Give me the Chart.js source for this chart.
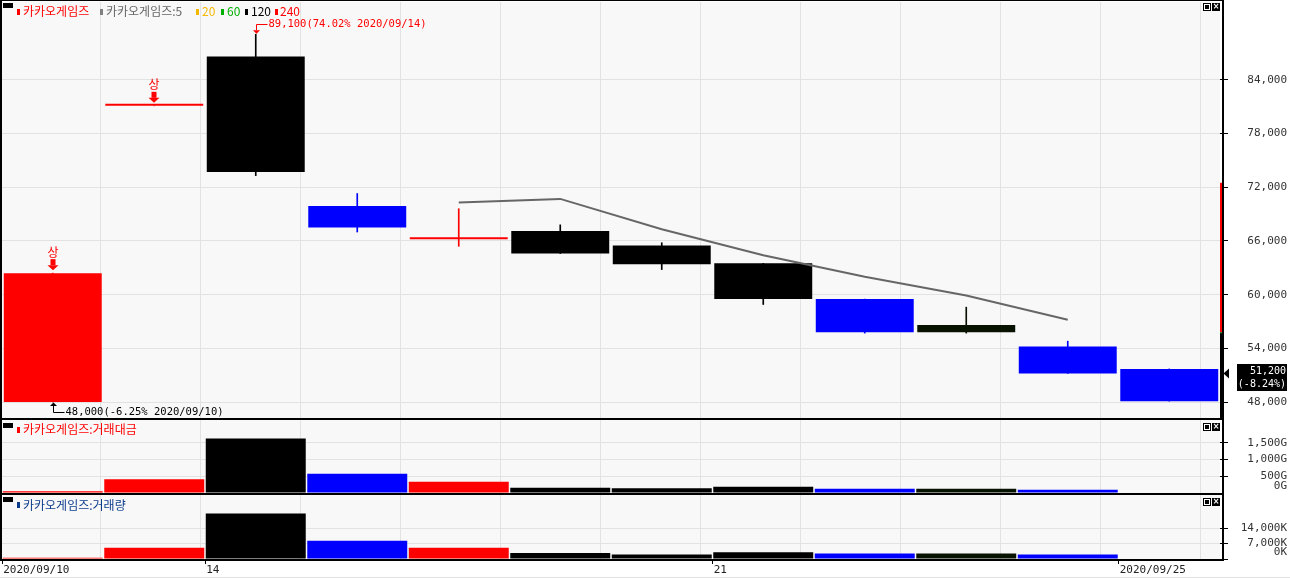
<!DOCTYPE html>
<html>
<head>
<meta charset="utf-8">
<script src="https://cdn.jsdelivr.net/npm/chart.js@4/dist/chart.umd.min.js"></script>
<style>
body { margin: 0; background: #fff; width: 1290px; height: 578px; overflow: hidden; position: relative; font-family: 'Noto Sans CJK KR', sans-serif; }
canvas { position: absolute; left: 0; }
.ln { position: absolute; background: #000; }
.lg { position: absolute; font-size: 12px; line-height: 12px; white-space: nowrap; }
.mk { position: absolute; width: 3px; height: 6px; }
.ico { position: absolute; width: 10px; height: 5px; background: #000; }
.btn1 { position: absolute; width: 6px; height: 6px; border: 1px solid #000; background: #fff; }
.btn1::after { content: ''; position: absolute; left: 1px; top: 1px; width: 4px; height: 4px; background: #000; }
.btn2 { position: absolute; width: 8px; height: 8px; background: #000; color: #fff; font: bold 8px/8px 'DejaVu Sans'; text-align: center; }
</style>
</head>
<body>
<canvas id="price" width="1290" height="420" style="top:0px"></canvas>
<canvas id="amount" width="1290" height="73" style="top:420px"></canvas>
<canvas id="volume" width="1290" height="83" style="top:495px"></canvas>

<div class="ln" style="left:0;top:0;width:1224px;height:1px"></div>
<div class="ln" style="left:0;top:0;width:2px;height:561px"></div>
<div class="ln" style="left:1222px;top:0;width:2px;height:561px"></div>
<div class="ln" style="left:0;top:418px;width:1224px;height:2px"></div>
<div class="ln" style="left:0;top:493px;width:1224px;height:2px"></div>
<div class="ln" style="left:0;top:559px;width:1224px;height:2px"></div>
<div class="ln" style="left:0;top:577px;width:1290px;height:1px;background:#e0e0e0"></div>

<!-- panel 1 legend -->
<div class="ico" style="left:3px;top:3px"></div>
<div class="mk" style="left:17px;top:9px;background:#ff0000"></div>
<div class="lg" style="left:23px;top:5px;color:#ff0000">카카오게임즈</div>
<div class="mk" style="left:100px;top:9px;background:#808080"></div>
<div class="lg" style="left:106px;top:5px;color:#666">카카오게임즈:5</div>
<div class="mk" style="left:196px;top:9px;background:#f5b800"></div>
<div class="lg" style="left:202px;top:5px;color:#f5b800">20</div>
<div class="mk" style="left:221px;top:9px;background:#00b000"></div>
<div class="lg" style="left:227px;top:5px;color:#00b000">60</div>
<div class="mk" style="left:245px;top:9px;background:#000"></div>
<div class="lg" style="left:251px;top:5px;color:#000">120</div>
<div class="mk" style="left:275px;top:9px;background:#ff0000"></div>
<div class="lg" style="left:280px;top:5px;color:#ff0000">240</div>
<div class="btn1" style="left:1203px;top:3px"></div>
<div class="btn2" style="left:1212px;top:3px">×</div>

<!-- panel 2 legend -->
<div class="ico" style="left:3px;top:423px"></div>
<div class="mk" style="left:17px;top:427px;background:#ff0000"></div>
<div class="lg" style="left:23px;top:423px;color:#ff0000">카카오게임즈:거래대금</div>
<div class="btn1" style="left:1203px;top:423px"></div>
<div class="btn2" style="left:1212px;top:423px">×</div>

<!-- panel 3 legend -->
<div class="ico" style="left:3px;top:497px"></div>
<div class="mk" style="left:17px;top:502px;background:#0b3c8c"></div>
<div class="lg" style="left:23px;top:499px;color:#0b3c8c">카카오게임즈:거래량</div>
<div class="btn1" style="left:1203px;top:498px"></div>
<div class="btn2" style="left:1212px;top:498px">×</div>

<script>
// daily data
const dates = ['2020/09/10', '2020/09/11', '2020/09/14', '2020/09/15', '2020/09/16', '2020/09/17',
               '2020/09/18', '2020/09/21', '2020/09/22', '2020/09/23', '2020/09/24', '2020/09/25'];
const x_tick_labels = ['2020/09/10', '', '14', '', '', '', '', '21', '', '', '', '2020/09/25'];
const opens  = [48000, 81100, 86600, 69900, 66200, 67100, 65500, 63500, 59500, 56600, 54200, 51700];
const closes = [62400, 81100, 73700, 67500, 66200, 64600, 63400, 59500, 55800, 55800, 51200, 48100];
const highs  = [62400, 81100, 89100, 71300, 69600, 67800, 65800, 63500, 59500, 58600, 54800, 51700];
const lows   = [48000, 81100, 73300, 67000, 65400, 64600, 62800, 58900, 55700, 55700, 51200, 48100];
const ma5    = [null, null, null, null, 70300, 70700, 67300, 64400, 62000, 59900, 57200, null];
const amounts = [50, 410, 1630, 580, 340, 160, 140, 190, 130, 130, 100, null];      // 거래대금, G
const volumes = [600, 5100, 20600, 8300, 5100, 2700, 2050, 3100, 2500, 2500, 2050, null]; // 거래량, K
const limit_up_days = [0, 1];

const price_ticks = [48000, 54000, 60000, 66000, 72000, 78000, 84000];
const amount_ticks = [0, 500, 1000, 1500];
const volume_ticks = [0, 7000, 14000];

const last_price = 51200;
const prev_close = 55800;
const upper_limit = 72500;
const lower_limit = 39100;

const bar_colors = ['#ff0000', '#ff0000', '#000000', '#0000ff', '#ff0000', '#000000',
                    '#000000', '#000000', '#0000ff', '#081200', '#0000ff', '#0000ff'];

const mono = 'DejaVu Sans Mono';
let fmt = v => v.toLocaleString('en-US');

// light background + vertical grid every 100px
let panel_bg = {
    id: 'panel_bg',
    beforeDraw(chart) {
        let {ctx, chartArea: a} = chart;
        ctx.save();
        ctx.fillStyle = '#f8f8f8';
        ctx.fillRect(a.left, a.top, a.right - a.left, a.bottom - a.top);
        ctx.strokeStyle = '#e2e2e2';
        ctx.lineWidth = 1;
        for (let x = 100; x < a.right; x += 100) {
            ctx.beginPath();
            ctx.moveTo(x + 0.5, a.top);
            ctx.lineTo(x + 0.5, a.bottom);
            ctx.stroke();
        }
        ctx.restore();
    }
};

let y_axis = function(min, max, ticks, label) {
    return {
        position: 'right',
        min: min,
        max: max,
        afterFit: s => { s.width = 67; s.paddingTop = 0; s.paddingBottom = 0; },
        afterBuildTicks: s => { s.ticks = ticks.map(v => ({value: v})); },
        border: {display: false},
        grid: {color: '#e2e2e2', tickColor: '#000', tickLength: 8},
        ticks: {crossAlign: 'far', padding: 0, autoSkip: false, color: '#333',
                font: {family: mono, size: 11}, callback: label}
    };
};

let base_options = function(padding, y) {
    return {
        responsive: false,
        animation: false,
        events: [],
        layout: {padding: padding},
        plugins: {legend: {display: false}, tooltip: {enabled: false}},
        scales: {x: {display: false}, y: y}
    };
};

// annotations on the price panel
let price_marks = {
    id: 'price_marks',
    afterDraw(chart) {
        let {ctx, chartArea: a, scales: {x: xs, y: ys}} = chart;
        ctx.save();

        // 상 markers
        ctx.fillStyle = '#ff0000';
        limit_up_days.forEach(i => {
            let x = Math.round(xs.getPixelForValue(i));
            let t = ys.getPixelForValue(highs[i]) - 3;
            ctx.beginPath();
            ctx.moveTo(x - 5.5, t - 5);
            ctx.lineTo(x + 5.5, t - 5);
            ctx.lineTo(x, t);
            ctx.closePath();
            ctx.fill();
            ctx.fillRect(x - 2.5, t - 11, 5, 6);
            ctx.font = "12px 'Noto Sans CJK KR'";
            ctx.textAlign = 'center';
            ctx.textBaseline = 'middle';
            ctx.fillText('상', x, t - 18);
        });

        ctx.font = '10.5px ' + mono;
        ctx.textAlign = 'left';
        ctx.textBaseline = 'middle';
        ctx.lineWidth = 1;

        // highest price
        let i_hi = highs.indexOf(Math.max(...highs));
        let hx = Math.round(xs.getPixelForValue(i_hi)) + 0.5;
        let hy = ys.getPixelForValue(highs[i_hi]);
        let hl = Math.round(hy - 10) + 0.5;
        ctx.strokeStyle = '#ff0000';
        ctx.fillStyle = '#ff0000';
        ctx.beginPath();
        ctx.moveTo(hx + 11, hl);
        ctx.lineTo(hx, hl);
        ctx.lineTo(hx, hy - 4);
        ctx.stroke();
        ctx.beginPath();
        ctx.moveTo(hx - 3.5, hy - 4);
        ctx.lineTo(hx + 3.5, hy - 4);
        ctx.lineTo(hx, hy - 0.5);
        ctx.closePath();
        ctx.fill();
        let pct_hi = ((highs[i_hi] / last_price - 1) * 100).toFixed(2);
        ctx.fillText(`${fmt(highs[i_hi])}(${pct_hi}% ${dates[i_hi]})`, hx + 12, hl);

        // lowest price
        let i_lo = lows.indexOf(Math.min(...lows));
        let lx = Math.round(xs.getPixelForValue(i_lo)) + 0.5;
        let ly = ys.getPixelForValue(lows[i_lo]);
        let ll = Math.round(ly + 10) + 0.5;
        ctx.strokeStyle = '#000';
        ctx.fillStyle = '#000';
        ctx.beginPath();
        ctx.moveTo(lx + 11, ll);
        ctx.lineTo(lx, ll);
        ctx.lineTo(lx, ly + 4);
        ctx.stroke();
        ctx.beginPath();
        ctx.moveTo(lx - 3.5, ly + 4);
        ctx.lineTo(lx + 3.5, ly + 4);
        ctx.lineTo(lx, ly + 0.5);
        ctx.closePath();
        ctx.fill();
        let pct_lo = ((lows[i_lo] / last_price - 1) * 100).toFixed(2);
        ctx.fillText(`${fmt(lows[i_lo])}(${pct_lo}% ${dates[i_lo]})`, lx + 12, ll);

        // daily limit range bar on the right edge
        let y_up = ys.getPixelForValue(upper_limit);
        let y_prev = ys.getPixelForValue(prev_close);
        let y_dn = Math.min(ys.getPixelForValue(lower_limit), a.bottom);
        ctx.fillStyle = '#ff0000';
        ctx.fillRect(a.right, y_up, 2, y_prev - y_up);
        ctx.fillStyle = '#000';
        ctx.fillRect(a.right, y_prev, 4, y_dn - y_prev);
        ctx.fillStyle = '#3a9a3a';
        ctx.fillRect(a.right, y_prev, 2, 1);

        // current price marker
        let py = ys.getPixelForValue(last_price);
        ctx.fillStyle = '#000';
        ctx.beginPath();
        ctx.moveTo(a.right + 3.5, py);
        ctx.lineTo(a.right + 9, py - 5);
        ctx.lineTo(a.right + 9, py + 5);
        ctx.closePath();
        ctx.fill();
        ctx.fillRect(1237, Math.round(py) - 9, 50, 27);
        ctx.fillStyle = '#fff';
        ctx.font = '10px ' + mono;
        ctx.textAlign = 'right';
        let chg = ((last_price / prev_close - 1) * 100).toFixed(2);
        ctx.fillText(fmt(last_price), 1286, py - 1.5);
        ctx.fillText(`(${chg}%)`, 1286, py + 11.5);
        ctx.restore();
    }
};

let price_options = base_options({left: 2, right: 3, top: 2, bottom: 2},
    y_axis(46216, 92700, price_ticks, v => fmt(v)));

new Chart(document.getElementById('price'), {
    type: 'bar',
    data: {
        labels: dates,
        datasets: [{
            type: 'line',
            data: ma5,
            borderColor: '#666666',
            borderWidth: 2,
            pointRadius: 0,
            tension: 0,
            order: 0,
        }, {
            data: dates.map((_, i) => [opens[i], closes[i]]),
            backgroundColor: bar_colors,
            grouped: false,
            barPercentage: 0.965,
            categoryPercentage: 1,
            minBarLength: 2,
            order: 1,
        }, {
            data: dates.map((_, i) => [lows[i], highs[i]]),
            backgroundColor: bar_colors,
            grouped: false,
            barThickness: 1,
            order: 2,
        }],
    },
    options: price_options,
    plugins: [panel_bg, price_marks],
});

new Chart(document.getElementById('amount'), {
    type: 'bar',
    data: {
        labels: dates,
        datasets: [{
            data: amounts,
            backgroundColor: bar_colors,
            barPercentage: 0.985,
            categoryPercentage: 1,
        }],
    },
    options: base_options({left: 2, right: 3, top: 0, bottom: 0},
        y_axis(0, 2186, amount_ticks, v => v === 0 ? ['0G', ''] : fmt(v) + 'G')),
    plugins: [panel_bg],
});

let volume_options = base_options({left: 2, right: 3, top: 0, bottom: 0},
    y_axis(0, 29000, volume_ticks, v => v === 0 ? ['0K', ''] : fmt(v) + 'K'));
volume_options.scales.x = {
    display: true,
    afterFit: s => { s.height = 19; s.paddingLeft = 0; s.paddingRight = 0; },
    border: {display: false},
    grid: {
        offset: true,
        drawOnChartArea: false,
        tickLength: 5,
        color: c => x_tick_labels[c.index] ? '#000' : 'rgba(0,0,0,0)',
        tickColor: c => x_tick_labels[c.index] ? '#000' : 'rgba(0,0,0,0)',
    },
    ticks: {
        autoSkip: false,
        maxRotation: 0,
        align: 'start',
        labelOffset: -49.5,
        padding: 0,
        color: '#222',
        font: {family: mono, size: 11},
        callback: (v, i) => x_tick_labels[i],
    },
};

new Chart(document.getElementById('volume'), {
    type: 'bar',
    data: {
        labels: dates,
        datasets: [{
            data: volumes,
            backgroundColor: bar_colors,
            barPercentage: 0.985,
            categoryPercentage: 1,
        }],
    },
    options: volume_options,
    plugins: [panel_bg],
});
</script>
</body>
</html>
